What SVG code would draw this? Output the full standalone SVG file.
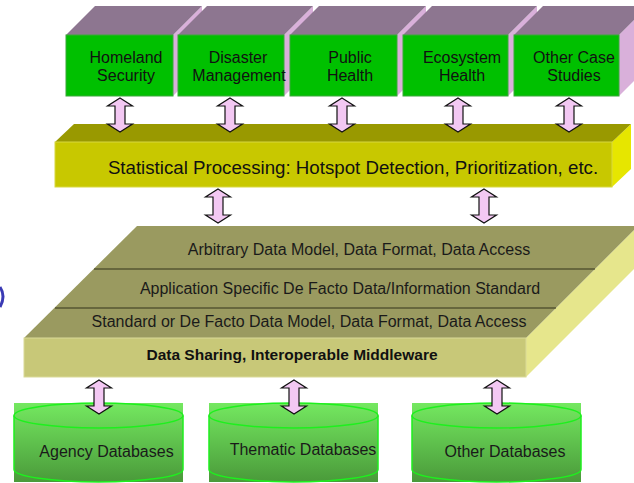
<svg xmlns="http://www.w3.org/2000/svg" width="634" height="483" viewBox="0 0 634 483">
<defs>
<style>
.bf{fill:#00c000;stroke:#3aa83a;stroke-width:1}
.bt{fill:#8d7690}
.bs{fill:#d9b0da}
.bx{font-family:"Liberation Sans",Arial,sans-serif;font-size:16px;fill:#111;text-anchor:middle}
.lt{font-family:"Liberation Sans",Arial,sans-serif;font-size:16px;fill:#1a1a1a;text-anchor:middle}
.cy{fill:url(#cyg)}
.co{fill:none;stroke:#1ef01e;stroke-width:1.5}
.arr{fill:#f3c8f3;stroke:#111;stroke-width:1.2;stroke-linejoin:miter}
</style>
<linearGradient id="cyg" x1="0" y1="0" x2="0" y2="1">
<stop offset="0" stop-color="#74e860"/>
<stop offset="1" stop-color="#4a9a3a"/>
</linearGradient>
<path id="dar" class="arr" d="M0,0 L12.5,8 L5,8 L5,26 L12.5,26 L0,34 L-12.5,26 L-5,26 L-5,8 L-12.5,8 Z"/>
</defs>
<rect width="634" height="483" fill="#ffffff"/>

<!-- blue mark at left edge -->
<path d="M0,287 Q6,296 0,307" fill="none" stroke="#3a3ab4" stroke-width="3"/>

<g id="homeland">
<polygon class="bs" points="173,35 202,6 202,67 173,96"/>
<polygon class="bt" points="66,35 95,6 202,6 173,35"/>
<rect class="bf" x="66" y="35" width="107" height="61"/>
<text class="bx" x="126" y="63">Homeland</text>
<text class="bx" x="126" y="81">Security</text>
</g>
<g id="disaster">
<polygon class="bs" points="284,35 313,6 313,67 284,96"/>
<polygon class="bt" points="178,35 207,6 313,6 284,35"/>
<rect class="bf" x="178" y="35" width="106" height="61"/>
<text class="bx" x="238" y="63">Disaster</text>
<text class="bx" x="239" y="81">Management</text>
</g>
<g id="public">
<polygon class="bs" points="397,35 426,6 426,67 397,96"/>
<polygon class="bt" points="290,35 319,6 426,6 397,35"/>
<rect class="bf" x="290" y="35" width="107" height="61"/>
<text class="bx" x="350" y="63">Public</text>
<text class="bx" x="350" y="81">Health</text>
</g>
<g id="ecosystem">
<polygon class="bs" points="508,35 537,6 537,67 508,96"/>
<polygon class="bt" points="403,35 432,6 537,6 508,35"/>
<rect class="bf" x="403" y="35" width="105" height="61"/>
<text class="bx" x="462" y="63">Ecosystem</text>
<text class="bx" x="462" y="81">Health</text>
</g>
<g id="other-case">
<polygon class="bs" points="619,35 648,6 648,67 619,96"/>
<polygon class="bt" points="514,35 543,6 648,6 619,35"/>
<rect class="bf" x="514" y="35" width="105" height="61"/>
<text class="bx" x="574" y="63">Other Case</text>
<text class="bx" x="574" y="81">Studies</text>
</g>

<g id="processing">
<polygon fill="#e6e600" points="612,142 631,124 631,169 612,187"/>
<polygon fill="#999900" points="55,142 74,124 631,124 612,142"/>
<rect x="55" y="142" width="557" height="45" fill="#c8c800" stroke="#d8d840" stroke-width="1"/>
<text x="353" y="174" font-family="'Liberation Sans',Arial,sans-serif" font-size="18.7" fill="#111" text-anchor="middle">Statistical Processing: Hotspot Detection, Prioritization, etc.</text>
</g>

<g id="middleware">
<polygon fill="#e6e68c" points="526,338 638,226 638,265 526,377"/>
<polygon fill="#9a9a60" points="24,338 137,226 638,226 526,338"/>
<line x1="94" y1="269" x2="595" y2="269" stroke="#33331a" stroke-width="1.2"/>
<line x1="55" y1="308" x2="556" y2="308" stroke="#33331a" stroke-width="1.2"/>
<rect x="24" y="338" width="502" height="39" fill="#c8c878" stroke="#dada98" stroke-width="1"/>
<text class="lt" x="359" y="255">Arbitrary Data Model, Data Format, Data Access</text>
<text class="lt" x="340" y="294">Application Specific De Facto Data/Information Standard</text>
<text class="lt" x="309" y="327">Standard or De Facto Data Model, Data Format, Data Access</text>
<text x="292" y="360" font-family="'Liberation Sans',Arial,sans-serif" font-size="15.5" font-weight="bold" fill="#111" text-anchor="middle">Data Sharing, Interoperable Middleware</text>
</g>

<g id="agency-db">
<rect class="cy" x="14" y="403" width="169" height="79"/>
<ellipse class="co" cx="98.5" cy="415.5" rx="84.5" ry="12.5"/>
<path class="co" d="M14,415.5 V469.5 A84.5,12.5 0 0 0 183,469.5 V415.5"/>
<text class="lt" x="106.5" y="457">Agency Databases</text>
</g>
<g id="thematic-db">
<rect class="cy" x="209" y="403" width="169" height="79"/>
<ellipse class="co" cx="293.5" cy="415.5" rx="84.5" ry="12.5"/>
<path class="co" d="M209,415.5 V469.5 A84.5,12.5 0 0 0 378,469.5 V415.5"/>
<text class="lt" x="303" y="455">Thematic Databases</text>
</g>
<g id="other-db">
<rect class="cy" x="412" y="403" width="169" height="79"/>
<ellipse class="co" cx="496.5" cy="415.5" rx="84.5" ry="12.5"/>
<path class="co" d="M412,415.5 V469.5 A84.5,12.5 0 0 0 581,469.5 V415.5"/>
<text class="lt" x="505" y="457">Other Databases</text>
</g>

<g id="connectors">
<use href="#dar" x="120" y="98"/>
<use href="#dar" x="230" y="98"/>
<use href="#dar" x="342" y="98"/>
<use href="#dar" x="458" y="98"/>
<use href="#dar" x="569" y="98"/>
<use href="#dar" x="218" y="189"/>
<use href="#dar" x="484" y="189"/>
<use href="#dar" x="99" y="380"/>
<use href="#dar" x="294" y="380"/>
<use href="#dar" x="497" y="380"/>
</g>
</svg>
